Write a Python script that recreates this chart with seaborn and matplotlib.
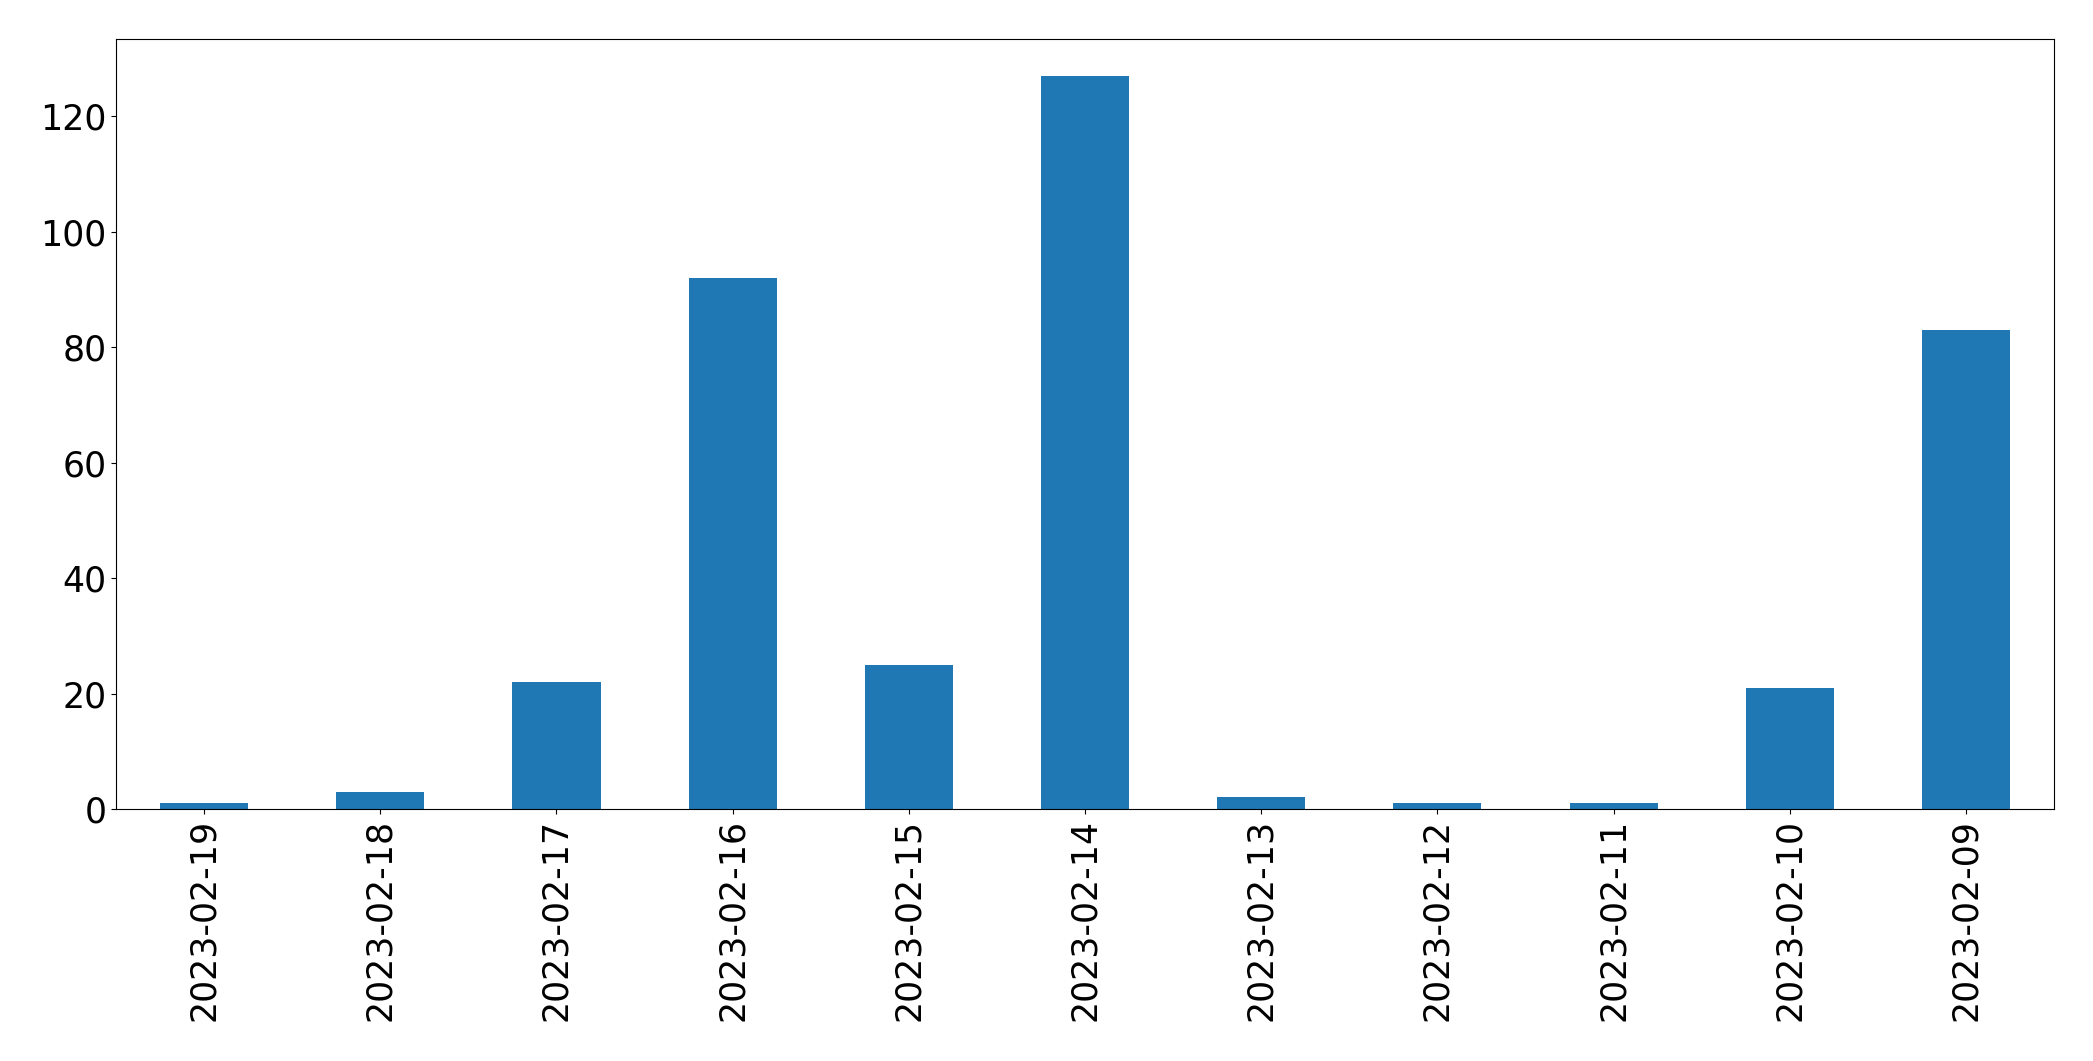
import matplotlib
matplotlib.use('Agg')
import matplotlib.pyplot as plt
import seaborn as sns
import pandas as pd

dates = ['2023-02-19', '2023-02-18', '2023-02-17', '2023-02-16', '2023-02-15',
         '2023-02-14', '2023-02-13', '2023-02-12', '2023-02-11', '2023-02-10',
         '2023-02-09']
counts = [1, 3, 22, 92, 25, 127, 2, 1, 1, 21, 83]

df = pd.DataFrame({'date': dates, 'count': counts})

fig = plt.figure(figsize=(20.93, 10.61), dpi=100)
ax = fig.add_axes([116 / 2093, 1 - 809 / 1061, (2054 - 116) / 2093, (809 - 39) / 1061])

sns.barplot(data=df, x='date', y='count', order=dates, color='#1f77b4',
            saturation=1, width=0.5, ax=ax)

ax.set_xlim(-0.5, len(dates) - 0.5)
ax.set_ylim(0, max(counts) * 1.05)
ax.set_yticks([0, 20, 40, 60, 80, 100, 120])
ax.set_xlabel('')
ax.set_ylabel('')
ax.tick_params(axis='both', labelsize=25)
ax.tick_params(axis='x', labelrotation=90)

fig.savefig('out.png', dpi=100)
